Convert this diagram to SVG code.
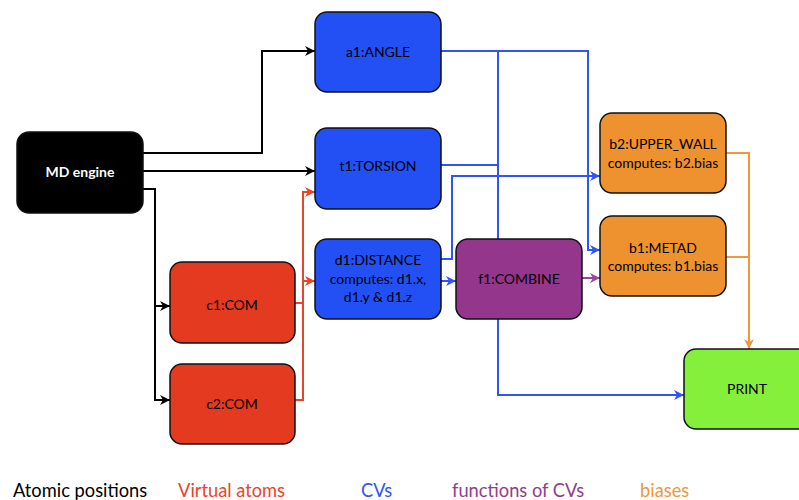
<svg xmlns="http://www.w3.org/2000/svg" width="799" height="500" viewBox="0 0 799 500">
<style>
.n{stroke:#111;stroke-width:1.5}
.t{font-family:"Lato","Liberation Sans",sans-serif;font-size:14px;fill:#000;text-anchor:middle}
.c{fill:none;stroke-width:2}
.lg{font-family:"Lato","Liberation Sans",sans-serif;font-size:18.3px}
</style>
<defs>
<marker id="mk" markerWidth="10" markerHeight="10" refX="10" refY="5" orient="auto" markerUnits="userSpaceOnUse"><path d="M0,0 L10,5 L0,10 L3,5 z" fill="#000"/></marker>
<marker id="mr" markerWidth="10" markerHeight="10" refX="10" refY="5" orient="auto" markerUnits="userSpaceOnUse"><path d="M0,0 L10,5 L0,10 L3,5 z" fill="#E8442A"/></marker>
<marker id="mb" markerWidth="10" markerHeight="10" refX="10" refY="5" orient="auto" markerUnits="userSpaceOnUse"><path d="M0,0 L10,5 L0,10 L3,5 z" fill="#2F55F8"/></marker>
<marker id="mp" markerWidth="10" markerHeight="10" refX="10" refY="5" orient="auto" markerUnits="userSpaceOnUse"><path d="M0,0 L10,5 L0,10 L3,5 z" fill="#9A449A"/></marker>
<marker id="mo" markerWidth="10" markerHeight="10" refX="10" refY="5" orient="auto" markerUnits="userSpaceOnUse"><path d="M0,0 L10,5 L0,10 L3,5 z" fill="#F0993A"/></marker>
</defs>
<g id="connectors">
<path class="c" stroke="#000" d="M143,153 H262 V51 H315" marker-end="url(#mk)"/>
<path class="c" stroke="#000" d="M143,171 H315" marker-end="url(#mk)"/>
<path class="c" stroke="#000" d="M143,189 H155 V400 H170" marker-end="url(#mk)"/>
<path class="c" stroke="#000" d="M155,306 H170" marker-end="url(#mk)"/>
<path class="c" stroke="#E8442A" d="M295,303 H303"/>
<path class="c" stroke="#E8442A" d="M295,400 H303 V192 H315" marker-end="url(#mr)"/>
<path class="c" stroke="#E8442A" d="M303,281 H315" marker-end="url(#mr)"/>
<path class="c" stroke="#2F55F8" d="M441,51 H588 V250 H600" marker-end="url(#mb)"/>
<path class="c" stroke="#2F55F8" d="M498,51 V239"/>
<path class="c" stroke="#2F55F8" d="M441,165 H498"/>
<path class="c" stroke="#2F55F8" d="M441,259 H452 V176 H600" marker-end="url(#mb)"/>
<path class="c" stroke="#2F55F8" d="M441,281 H456" marker-end="url(#mb)"/>
<path class="c" stroke="#2F55F8" d="M498,319 V395 H684" marker-end="url(#mb)"/>
<path class="c" stroke="#9A449A" d="M582,278 H600" marker-end="url(#mp)"/>
<path class="c" stroke="#F0993A" d="M726,153 H749 V349" marker-end="url(#mo)"/>
<path class="c" stroke="#F0993A" d="M726,257 H749"/>
</g>
<g id="md"><rect class="n" x="17" y="132" width="126" height="81" rx="12" fill="#000"/><text class="t" x="80" y="177" style="fill:#fff;font-weight:bold">MD engine</text></g>
<g id="a1"><rect class="n" x="315" y="12" width="126" height="80" rx="12" fill="#2350F5"/><text class="t" x="378" y="57">a1:ANGLE</text></g>
<g id="t1"><rect class="n" x="315" y="128" width="126" height="81" rx="12" fill="#2350F5"/><text class="t" x="378" y="171">t1:TORSION</text></g>
<g id="d1"><rect class="n" x="315" y="239" width="126" height="80" rx="12" fill="#2350F5"/><text class="t" x="378" y="265">d1:DISTANCE</text><text class="t" x="378" y="284">computes: d1.x,</text><text class="t" x="378" y="302">d1.y &amp; d1.z</text></g>
<g id="c1"><rect class="n" x="170" y="262" width="125" height="81" rx="12" fill="#E43A20"/><text class="t" x="232" y="310">c1:COM</text></g>
<g id="c2"><rect class="n" x="170" y="364" width="125" height="80" rx="12" fill="#E43A20"/><text class="t" x="232" y="409">c2:COM</text></g>
<g id="f1"><rect class="n" x="456" y="239" width="126" height="80" rx="12" fill="#93368C"/><text class="t" x="519" y="284">f1:COMBINE</text></g>
<g id="b2"><rect class="n" x="600" y="113" width="126" height="80" rx="12" fill="#EE9230"/><text class="t" x="663" y="149">b2:UPPER_WALL</text><text class="t" x="663" y="168">computes: b2.bias</text></g>
<g id="b1"><rect class="n" x="600" y="216" width="126" height="80" rx="12" fill="#EE9230"/><text class="t" x="663" y="253">b1:METAD</text><text class="t" x="663" y="271">computes: b1.bias</text></g>
<g id="print"><rect class="n" x="684" y="349" width="126" height="80" rx="12" fill="#84F03C"/><text class="t" x="747" y="394">PRINT</text></g>
<g id="legend">
<text class="lg" x="13" y="497" fill="#000">Atomic positions</text>
<text class="lg" x="178" y="497" fill="#E8442A">Virtual atoms</text>
<text class="lg" x="361" y="497" fill="#2F55F8">CVs</text>
<text class="lg" x="452" y="497" fill="#933B8E">functions of CVs</text>
<text class="lg" x="640" y="497" fill="#F0963A">biases</text>
</g>
</svg>
